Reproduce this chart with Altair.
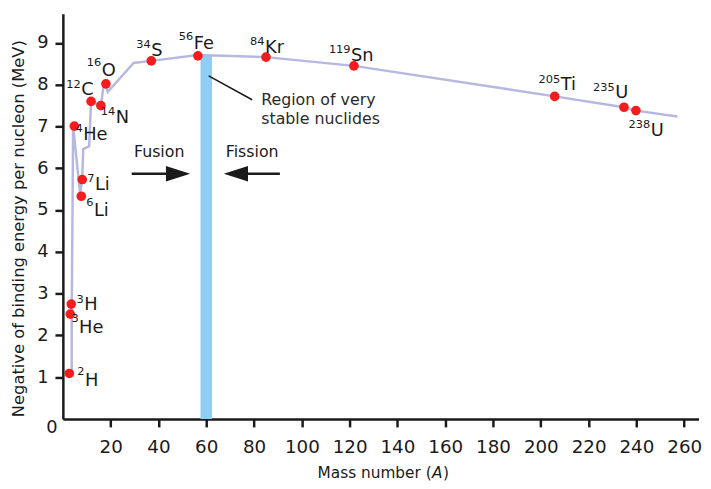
import altair as alt
import pandas as pd

# ---------------- data ----------------
nuclide_mass = ["2", "3", "3", "4", "6", "7", "12", "14", "16", "34", "56", "84", "119", "205", "235", "238"]
nuclide_symbol = ["H", "H", "He", "He", "Li", "Li", "C", "N", "O", "S", "Fe", "Kr", "Sn", "Ti", "U", "U"]
point_A = [2.7, 3.5, 3.1, 4.8, 7.7, 8.1, 11.8, 15.9, 18.0, 37.0, 56.5, 85.0, 121.8, 205.8, 234.8, 239.8]
point_E = [1.09, 2.75, 2.51, 7.01, 5.33, 5.73, 7.60, 7.50, 8.02, 8.57, 8.69, 8.66, 8.45, 7.72, 7.46, 7.38]

curve_A = [3.7, 3.7, 4.3, 7.2, 8.1, 8.5, 11.0, 11.8, 15.9, 16.8, 17.6, 18.8, 29.6, 37.0,
           56.5, 85.0, 121.8, 205.8, 234.8, 239.8, 257.1]
curve_E = [1.09, 2.51, 7.01, 5.40, 5.73, 6.46, 6.53, 7.60, 7.50, 7.88, 8.02, 7.83, 8.52, 8.57,
           8.71, 8.66, 8.45, 7.72, 7.46, 7.38, 7.24]

band_A = [57.6, 62.4]
band_top = 8.71

x_ticks = [20, 40, 60, 80, 100, 120, 140, 160, 180, 200, 220, 240, 260]
y_ticks = [1, 2, 3, 4, 5, 6, 7, 8, 9]

# ---------------- annotation layout (data units) ----------------
sup_E = [1.12, 2.84, 2.39, 6.93, 5.16, 5.75, 7.98, 7.34, 8.52, 8.95, 9.14, 9.02, 8.83, 8.12, 7.93, 7.03]
sym_A = [9.3, 8.9, 6.8, 8.5, 13.0, 13.4, 7.7, 22.1, 16.3, 37.0, 54.8, 84.6, 120.6, 208.3, 231.1, 246.0]
sym_E = [0.90, 2.72, 2.18, 6.79, 4.97, 5.61, 7.86, 7.20, 8.33, 8.80, 8.97, 8.88, 8.69, 7.98, 7.81, 6.89]

FONT = "DejaVu Sans"
INK = "#1a1a1a"

xscale = alt.Scale(domain=[0, 266], nice=False, zero=False)
yscale = alt.Scale(domain=[0, 9.7], nice=False, zero=False)
xaxis = alt.Axis(values=x_ticks, title=None, grid=False, labelFont=FONT, labelFontSize=18.5,
                 labelColor=INK, labelPadding=11, tickSize=8, tickWidth=2.5, tickColor=INK,
                 domainWidth=2.5, domainColor=INK, labelFlush=False)
yaxis = alt.Axis(values=y_ticks, title="Negative of binding energy per nucleon (MeV)", grid=False,
                 labelFont=FONT, labelFontSize=18, labelColor=INK, labelPadding=7,
                 tickSize=8, tickWidth=2.5, tickColor=INK, domainWidth=2.5, domainColor=INK,
                 titleFont=FONT, titleFontSize=16.5, titleFontWeight="normal", titleColor=INK,
                 titleX=-45, titleY=217, titleAngle=-90, titleAlign="center",
                 titleBaseline="middle", labelFlush=False)


def X(field):
    return alt.X(field, type="quantitative", scale=xscale, axis=xaxis)


def X2(field):
    return alt.X2(field)


def Y(field):
    return alt.Y(field, type="quantitative", scale=yscale, axis=yaxis)


pts = pd.DataFrame({"A": point_A, "E": point_E, "mass": nuclide_mass, "sym": nuclide_symbol,
                    "supE": sup_E, "symA": sym_A, "symE": sym_E})
curve = pd.DataFrame({"A": curve_A, "E": curve_E, "i": list(range(len(curve_A)))})
band = pd.DataFrame({"a1": [band_A[0]], "a2": [band_A[1]], "e1": [0], "e2": [band_top]})

band_layer = alt.Chart(band).mark_rect(color="#8ecdf4").encode(
    x=X("a1"), x2=X2("a2"), y=Y("e1"), y2=alt.Y2("e2"))

curve_layer = alt.Chart(curve).mark_line(color="#b6b8e0", strokeWidth=2.5).encode(
    x=X("A"), y=Y("E"), order="i:Q")

point_layer = alt.Chart(pts).mark_circle(color="#f41c1c", opacity=1, size=95).encode(
    x=X("A"), y=Y("E"))

# superscript mass numbers end where the element symbol begins
sup_layer = alt.Chart(pts).mark_text(font=FONT, fontSize=11.5, color=INK, align="right",
                                     baseline="middle", dx=-0.5).encode(
    x=X("symA"), y=Y("supE"), text="mass:N")

sym_layer = alt.Chart(pts).mark_text(font=FONT, fontSize=18, color=INK, align="left",
                                     baseline="middle").encode(
    x=X("symA"), y=Y("symE"), text="sym:N")

# Fusion / Fission annotations
words = pd.DataFrame({"A": [40.3, 79.2], "E": [6.39, 6.39], "t": ["Fusion", "Fission"]})
word_layer = alt.Chart(words).mark_text(font=FONT, fontSize=16, color=INK, align="center",
                                        baseline="middle").encode(
    x=X("A"), y=Y("E"), text="t:N")

shafts = pd.DataFrame({"a1": [28.8, 75.1], "a2": [44.1, 90.8], "e": [5.87, 5.87]})
shaft_layer = alt.Chart(shafts).mark_rule(color=INK, strokeWidth=2.5).encode(
    x=X("a1"), x2=X2("a2"), y=Y("e"))

head_r = alt.Chart(pd.DataFrame({"A": [48.2], "E": [5.87]})).mark_point(
    shape="M-1,-0.64L1,0L-1,0.64Z", filled=True, fill=INK, strokeWidth=0, size=600, opacity=1
).encode(x=X("A"), y=Y("E"))
head_l = alt.Chart(pd.DataFrame({"A": [72.4], "E": [5.87]})).mark_point(
    shape="M1,-0.64L-1,0L1,0.64Z", filled=True, fill=INK, strokeWidth=0, size=600, opacity=1
).encode(x=X("A"), y=Y("E"))

leader = alt.Chart(pd.DataFrame({"a1": [61.0], "a2": [79.2], "e1": [8.21], "e2": [7.64]})).mark_rule(
    color=INK, strokeWidth=1.5).encode(x=X("a1"), x2=X2("a2"), y=Y("e1"), y2=alt.Y2("e2"))

region = pd.DataFrame({"A": [83.0, 83.0], "E": [7.64, 7.17],
                       "t": ["Region of very", "stable nuclides"]})
region_layer = alt.Chart(region).mark_text(font=FONT, fontSize=16, color="#2a2a2a", align="left",
                                           baseline="middle").encode(
    x=X("A"), y=Y("E"), text="t:N")

zero_layer = alt.Chart(pd.DataFrame({"A": [0], "E": [0], "t": ["0"]})).mark_text(
    font=FONT, fontSize=18, color=INK, align="center", baseline="middle", dx=-11, dy=9
).encode(x=X("A"), y=Y("E"), text="t:N")

# x-axis title with italic A
xt1 = alt.Chart(pd.DataFrame({"t": ["Mass number ("]})).mark_text(
    font=FONT, fontSize=15.5, color=INK, align="right", baseline="middle").encode(
    x=alt.value(373), y=alt.value(465), text="t:N")
xt2 = alt.Chart(pd.DataFrame({"t": ["A"]})).mark_text(
    font=FONT, fontSize=15.5, fontStyle="italic", color=INK, align="left", baseline="middle").encode(
    x=alt.value(373.5), y=alt.value(465), text="t:N")
xt3 = alt.Chart(pd.DataFrame({"t": [")"]})).mark_text(
    font=FONT, fontSize=15.5, color=INK, align="left", baseline="middle").encode(
    x=alt.value(384.5), y=alt.value(465), text="t:N")

chart = alt.layer(
    band_layer, curve_layer, point_layer, sup_layer, sym_layer, word_layer, shaft_layer,
    head_r, head_l, leader, region_layer, zero_layer, xt1, xt2, xt3
).properties(
    width=643, height=410,
    autosize=alt.AutoSizeParams(type="none"),
    padding={"left": 55.5, "top": 3, "right": 4.5, "bottom": 60},
    background="white",
).configure_view(stroke=None)

chart.save("out.html", embed_options={"renderer": "svg", "actions": False})
